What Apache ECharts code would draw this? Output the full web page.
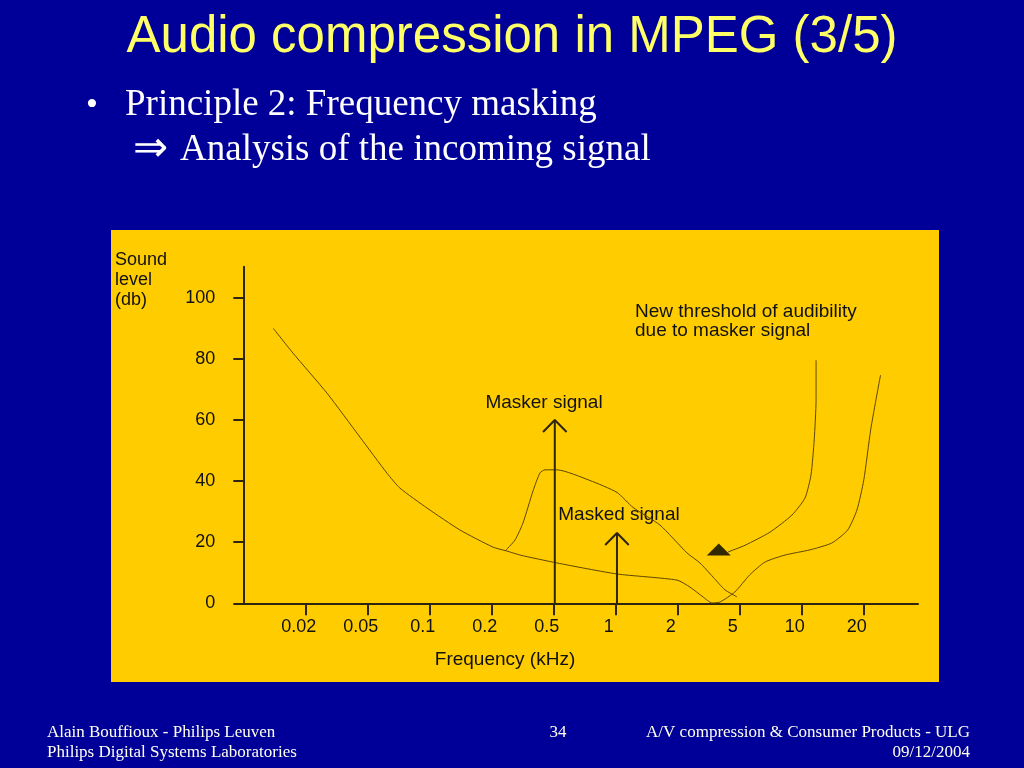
<!DOCTYPE html>
<html>
<head>
<meta charset="utf-8">
<script src="https://cdn.jsdelivr.net/npm/echarts@6/dist/echarts.min.js"></script>
<style>
html,body{margin:0;padding:0;background:#000099;}
#c{width:1024px;height:768px;}
</style>
</head>
<body>
<div id="c"></div>
<script>
// Frequency tick labels (kHz), evenly spaced positions 0..9
var freqLabels = ['0.02','0.05','0.1','0.2','0.5','1','2','5','10','20'];
var freqTickPos = [0,1,2,3,4,5,6,7,8,9];
var levelTicks = [0,20,40,60,80,100];

// Threshold in quiet: [freq position, level dB]
var quietThreshold = [
  [-0.524,90.0],[-0.206,81.9],[0.342,68.8],[0.874,54.4],[1.31,42.6],[1.519,37.7],
  [1.955,31.2],[2.487,24.0],[3.019,18.4],[3.245,17.1],[3.455,15.8],[4.052,13.2],
  [5.019,9.6],[5.987,7.6],[6.197,5.3],[6.406,2.1],[6.552,0.1],[6.68,0.4],
  [6.92,3.7],[7.16,9.3],[7.405,13.5],[7.73,15.8],[8.13,17.5],[8.48,19.7],
  [8.74,24.0],[8.89,30.6],[9.0,40.4],[9.11,56.7],[9.21,68.2],[9.27,74.7]
];
// Masking curve caused by the masker
var maskingCurve = [
  [3.213,17.1],[3.374,20.7],[3.503,26.3],[3.665,36.8],[3.777,42.7],[3.858,43.7],
  [4.052,43.7],[4.584,40.2],[5.019,36.3],[5.277,31.4],[5.713,25.6],[6.148,16.5],
  [6.358,13.2],[6.568,8.6],[6.761,4.4],[6.955,2.1]
];
// New threshold of audibility branch
var newThreshold = [
  [6.81,16.8],[7.084,19.0],[7.487,23.3],[7.842,28.9],[8.052,34.5],[8.148,42.0],
  [8.2,53.5],[8.23,66.5],[8.23,79.6]
];
var thresholdMarker = [[6.66,17.6]];
// Signals: [freq position, level dB]
var maskerSignal = [4.016, 60];
var maskedSignal = [5.019, 23];

var axisColor = '#2e2410';
var curveColor = '#5e4600';

function arrowStem(s){ return [[s[0],0],[s[0],s[1]]]; }
function arrowHead(s){ return [[s[0]-0.19,s[1]-3.9],[s[0],s[1]],[s[0]+0.19,s[1]-3.9]]; }

var chart = echarts.init(document.getElementById('c'), null, {renderer:'canvas'});
var sans = '"Liberation Sans", Arial, sans-serif';
var serif = '"Liberation Serif", "Times New Roman", serif';

chart.setOption({
  backgroundColor: '#000099',
  animation: false,
  grid: {left: 243.3, right: 106, top: 266.7, bottom: 164.7, containLabel: false},
  xAxis: {
    type: 'value', min: -1.008, max: 9.874,
    axisLine: {show: true, onZero: false, lineStyle: {color: axisColor, width: 2}},
    axisTick: {show: true, inside: false, length: 12, customValues: freqTickPos, lineStyle: {color: axisColor, width: 2}},
    axisLabel: {show: true, customValues: freqTickPos, margin: 15, color: '#111', fontFamily: sans, fontSize: 18,
      padding: [0, 14, 0, 0],
      formatter: function(v){ var i = Math.round(v); return freqLabels[i] !== undefined ? freqLabels[i] : ''; }},
    splitLine: {show: false}
  },
  yAxis: {
    type: 'value', min: 0, max: 110.2,
    axisLine: {show: true, onZero: false, lineStyle: {color: axisColor, width: 2}},
    axisTick: {show: true, inside: false, length: 10, customValues: levelTicks, lineStyle: {color: axisColor, width: 2}},
    axisLabel: {show: true, customValues: levelTicks, margin: 28, color: '#111', fontFamily: sans, fontSize: 18},
    splitLine: {show: false}
  },
  graphic: [
    {type: 'rect', z: -10, shape: {x: 111, y: 230, width: 828, height: 452}, style: {fill: '#ffcc00'}},
    {type: 'text', style: {text: 'Audio compression in MPEG (3/5)', x: 512, y: 38, textAlign: 'center', textVerticalAlign: 'middle', font: '51px ' + sans, fill: '#ffff66'}},
    {type: 'text', style: {text: '•', x: 86, y: 106, textVerticalAlign: 'middle', font: '34px ' + serif, fill: '#ffffff'}},
    {type: 'text', style: {text: 'Principle 2: Frequency masking', x: 125, y: 105, textVerticalAlign: 'middle', font: '37px ' + serif, fill: '#ffffff'}},
    {type: 'text', style: {text: '⇒', x: 133, y: 150, textVerticalAlign: 'middle', font: '42px ' + serif, fill: '#ffffff'}},
    {type: 'text', style: {text: 'Analysis of the incoming signal', x: 180, y: 150, textVerticalAlign: 'middle', font: '37px ' + serif, fill: '#ffffff'}},
    {type: 'text', style: {text: 'Sound\nlevel\n(db)', x: 115, y: 250, lineHeight: 20, font: '18px ' + sans, fill: '#111'}},
    {type: 'text', style: {text: 'Frequency (kHz)', x: 505, y: 660, textAlign: 'center', textVerticalAlign: 'middle', font: '19px ' + sans, fill: '#111'}},
    {type: 'text', style: {text: 'New threshold of audibility\ndue to masker signal', x: 635, y: 302, lineHeight: 19, font: '19px ' + sans, fill: '#111'}},
    {type: 'text', style: {text: 'Masker signal', x: 544, y: 403, textAlign: 'center', textVerticalAlign: 'middle', font: '19px ' + sans, fill: '#111'}},
    {type: 'text', style: {text: 'Masked signal', x: 619, y: 515, textAlign: 'center', textVerticalAlign: 'middle', font: '19px ' + sans, fill: '#111'}},
    {type: 'text', style: {text: 'Alain Bouffioux - Philips Leuven\nPhilips Digital Systems Laboratories', x: 47, y: 723, lineHeight: 20, font: '17px ' + serif, fill: '#ffffee'}},
    {type: 'text', style: {text: '34', x: 558, y: 733, textAlign: 'center', textVerticalAlign: 'middle', font: '17px ' + serif, fill: '#ffffee'}},
    {type: 'text', style: {text: 'A/V compression & Consumer Products - ULG\n09/12/2004', x: 970, y: 723, textAlign: 'right', lineHeight: 20, font: '17px ' + serif, fill: '#ffffee'}}
  ],
  series: [
    {type: 'line', data: quietThreshold, showSymbol: false, smooth: 0.2, lineStyle: {color: curveColor, width: 1}},
    {type: 'line', data: maskingCurve, showSymbol: false, smooth: 0.2, lineStyle: {color: curveColor, width: 1}},
    {type: 'line', data: newThreshold, showSymbol: false, smooth: 0.2, lineStyle: {color: curveColor, width: 1}},
    {type: 'scatter', data: thresholdMarker, symbol: 'triangle', symbolSize: [24, 12], itemStyle: {color: '#000'}},
    {type: 'line', data: arrowStem(maskerSignal), showSymbol: false, lineStyle: {color: axisColor, width: 2}},
    {type: 'line', data: arrowHead(maskerSignal), showSymbol: false, lineStyle: {color: axisColor, width: 2}},
    {type: 'line', data: arrowStem(maskedSignal), showSymbol: false, lineStyle: {color: axisColor, width: 2}},
    {type: 'line', data: arrowHead(maskedSignal), showSymbol: false, lineStyle: {color: axisColor, width: 2}}
  ]
});
</script>
</body>
</html>
